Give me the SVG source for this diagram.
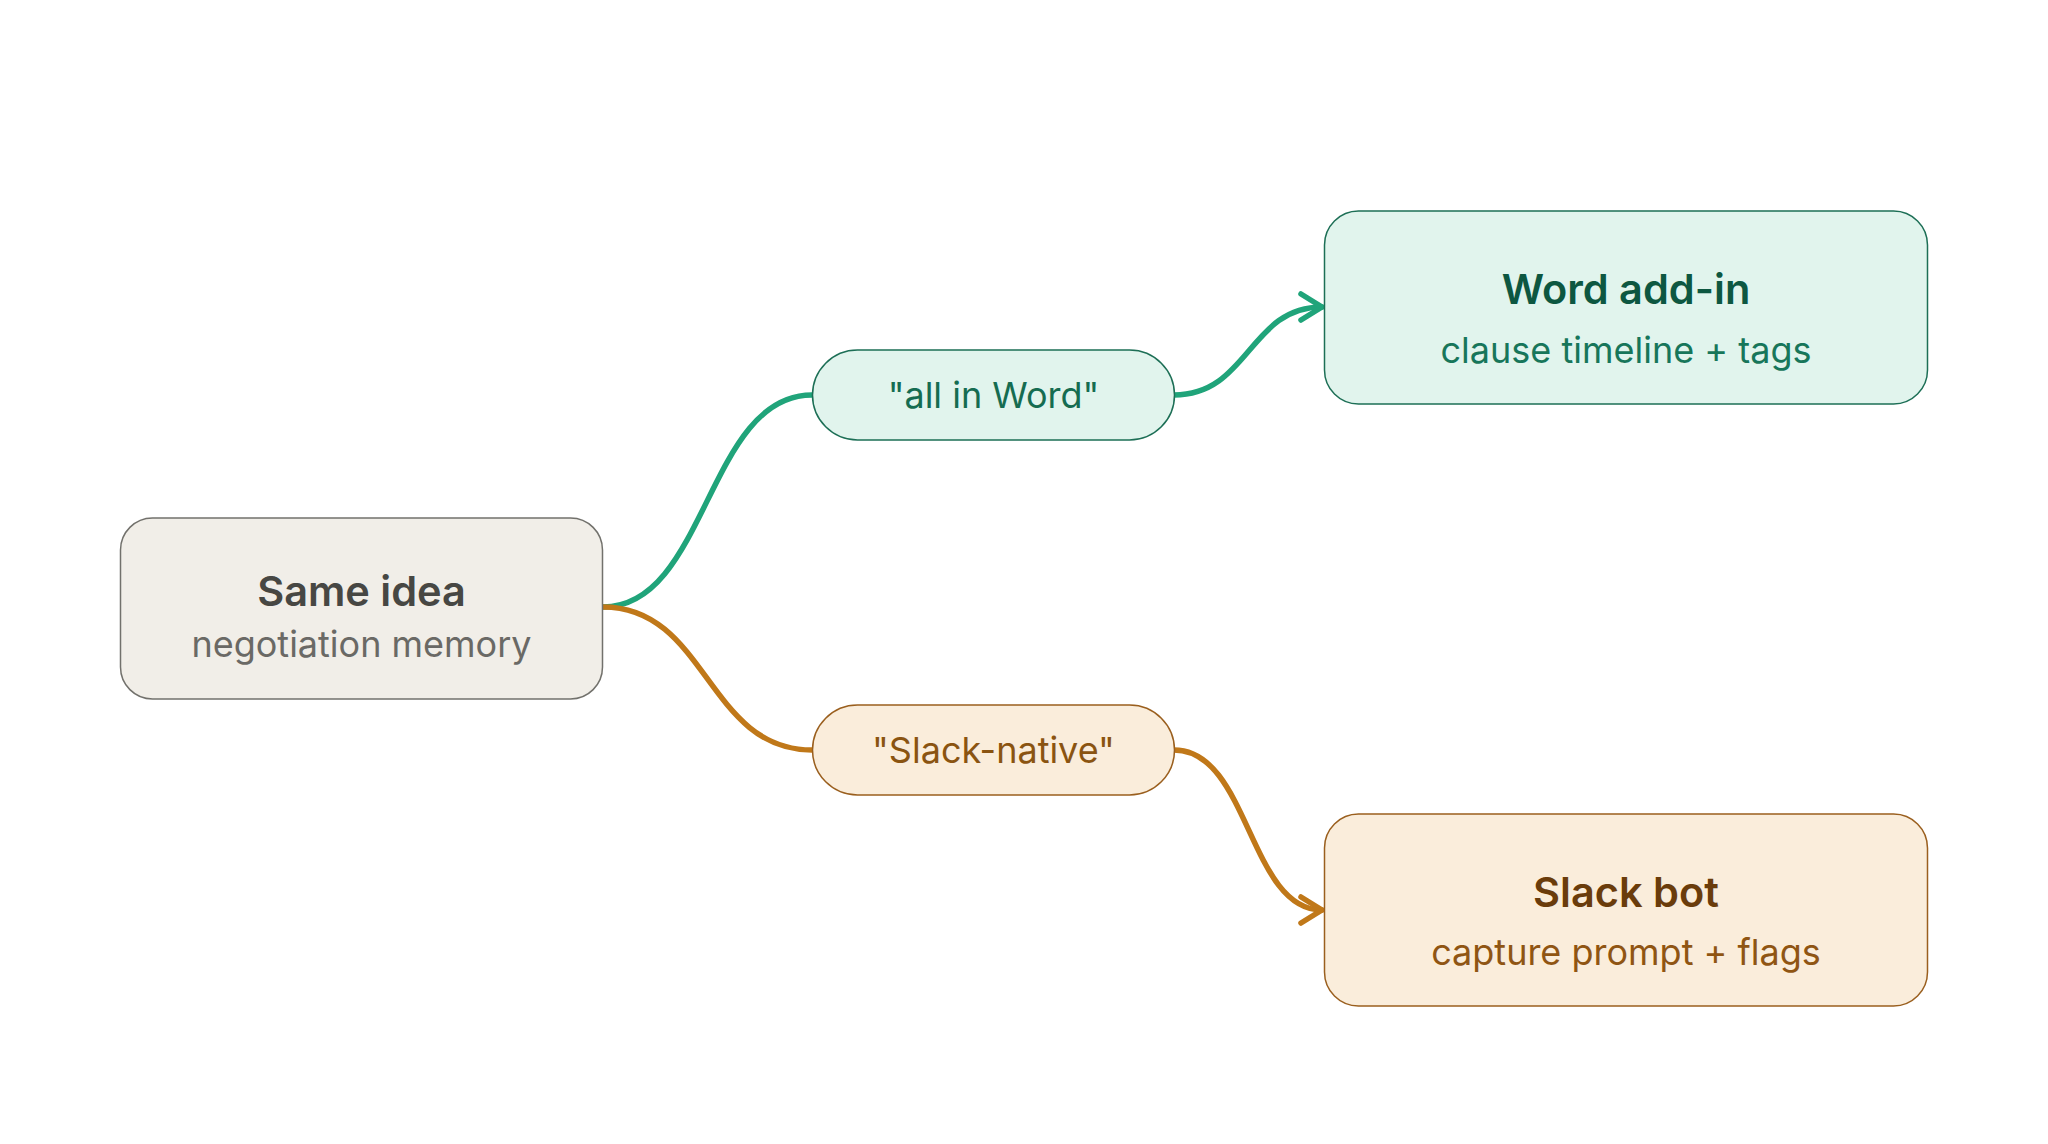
<svg xmlns="http://www.w3.org/2000/svg" width="2048" height="1144" viewBox="0 0 2048 1144">
<defs>
<style>
text{font-family:Inter,"Noto Sans","Liberation Sans",sans-serif;text-anchor:middle}
.t{font-size:41.5px;font-weight:600}
.s{font-size:36px;font-weight:400}
.p{font-size:36px;font-weight:400}
.g-edge{fill:none;stroke:#20a47a;stroke-width:5.5;stroke-linecap:round}
.o-edge{fill:none;stroke:#c07819;stroke-width:5.5;stroke-linecap:round}
</style>
<marker id="ag" markerUnits="userSpaceOnUse" viewBox="-26 -18 30 36" markerWidth="30" markerHeight="36" refX="0" refY="0" orient="auto">
<path d="M-21,-13 L0,0 L-21,13" fill="none" stroke="#20a47a" stroke-width="5.5" stroke-linecap="round" stroke-linejoin="round"/>
</marker>
<marker id="ao" markerUnits="userSpaceOnUse" viewBox="-26 -18 30 36" markerWidth="30" markerHeight="36" refX="0" refY="0" orient="auto">
<path d="M-21,-13 L0,0 L-21,13" fill="none" stroke="#c07819" stroke-width="5.5" stroke-linecap="round" stroke-linejoin="round"/>
</marker>
</defs>
<rect width="2048" height="1144" fill="#ffffff"/>
<g id="connectors">
<path class="g-edge" d="M603,607 C707,607 707,395 812,395"/>
<path class="o-edge" d="M603,607 C707,607 707,750 812,750"/>
<path class="g-edge" d="M1174,395 C1249,395 1249,307 1322,307" marker-end="url(#ag)"/>
<path class="o-edge" d="M1174,750 C1249,750 1249,910 1322,910" marker-end="url(#ao)"/>
</g>
<g id="same-idea">
<rect x="120.5" y="518" width="482" height="181" rx="32" fill="#f1eee8" stroke="#72716c" stroke-width="1.5"/>
<text class="t" x="361.5" y="606" fill="#474743">Same idea</text>
<text class="s" x="361.5" y="657" fill="#6a6965">negotiation memory</text>
</g>
<g id="all-in-word">
<rect x="812.5" y="350" width="362" height="90" rx="45" fill="#e1f4ed" stroke="#1d6f56" stroke-width="1.5"/>
<text class="p" x="993.5" y="408" fill="#156c51">"all in Word"</text>
</g>
<g id="slack-native">
<rect x="812.5" y="705" width="362" height="90" rx="45" fill="#faeddb" stroke="#9a5f1e" stroke-width="1.5"/>
<text class="p" x="993.5" y="763" fill="#8a5411">"Slack-native"</text>
</g>
<g id="word-add-in">
<rect x="1324.5" y="211" width="603" height="193" rx="34" fill="#e1f4ed" stroke="#1d6f56" stroke-width="1.5"/>
<text class="t" x="1626" y="304" fill="#0d5741">Word add-in</text>
<text class="s" x="1626" y="363" fill="#17765a">clause timeline + tags</text>
</g>
<g id="slack-bot">
<rect x="1324.5" y="814" width="603" height="192" rx="34" fill="#faeddb" stroke="#9a5f1e" stroke-width="1.5"/>
<text class="t" x="1626" y="907" fill="#6a3c0b">Slack bot</text>
<text class="s" x="1626" y="965" fill="#8f5513">capture prompt + flags</text>
</g>
</svg>
